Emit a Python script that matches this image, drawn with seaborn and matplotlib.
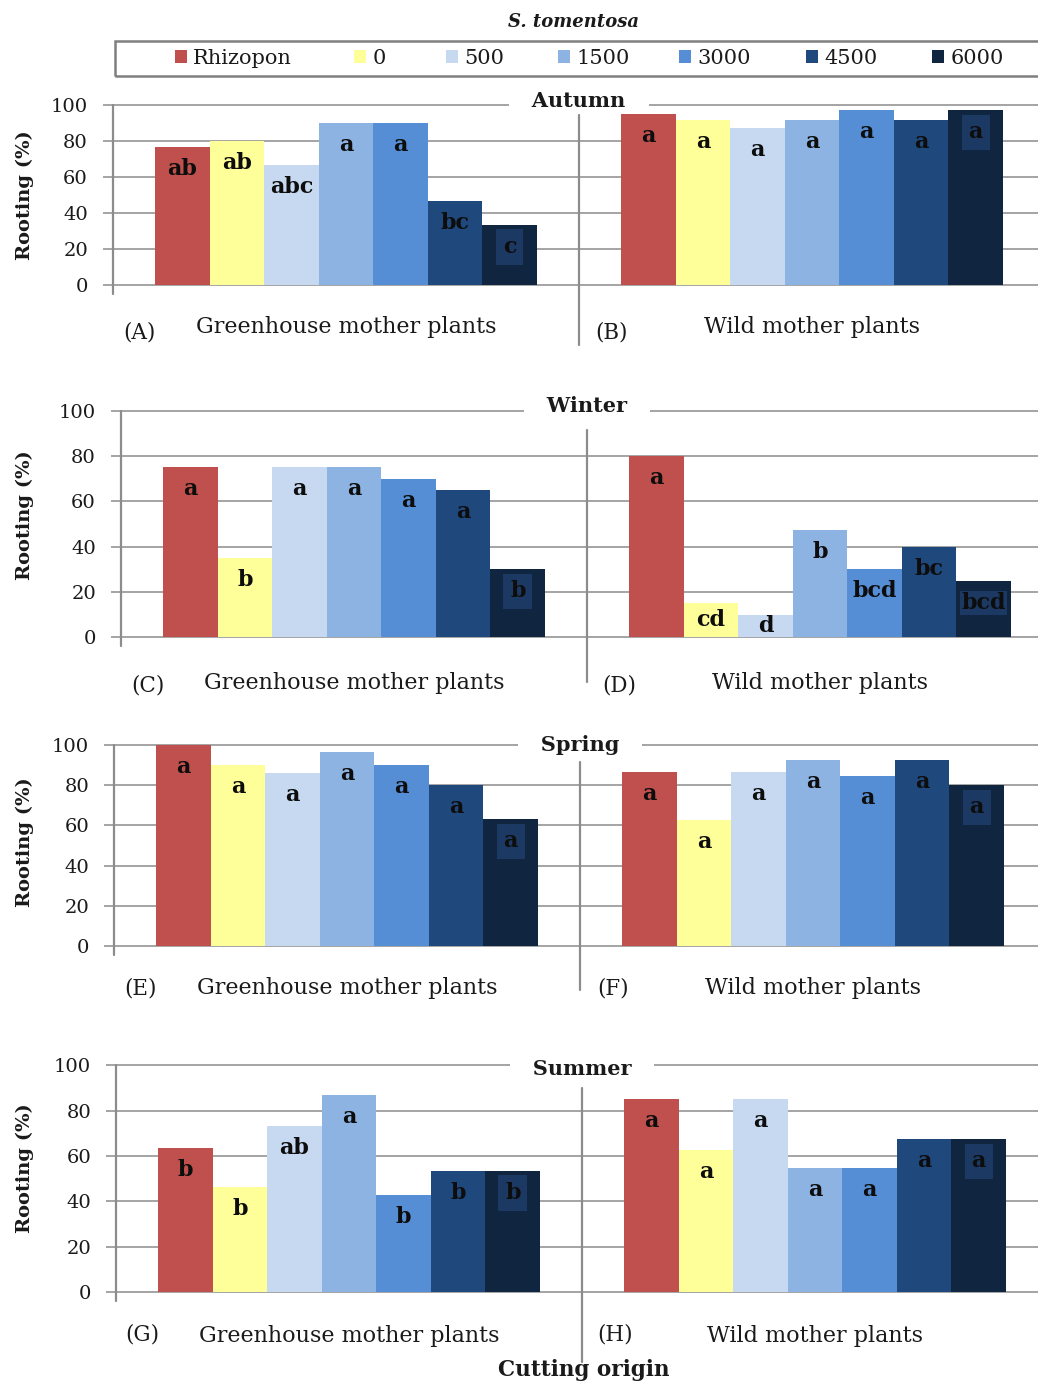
import numpy as np
import pandas as pd
import seaborn as sns
import matplotlib
matplotlib.use("Agg")
import matplotlib.pyplot as plt
from matplotlib.patches import Rectangle

# ---- data -------------------------------------------------------------
treatments = ["Rhizopon", "0", "500", "1500", "3000", "4500", "6000"]
origins = ["Greenhouse mother plants", "Wild mother plants"]
seasons = ["Autumn", "Winter", "Spring", "Summer"]
colors = ["#C0504D", "#FFFF99", "#C6D9F1", "#8DB3E2", "#558ED5", "#1F497D", "#10253F"]

autumn_greenhouse = [76.7, 80.0, 66.7, 90.0, 90.0, 46.7, 33.3]
autumn_wild = [95.0, 91.7, 87.0, 91.7, 97.0, 91.7, 97.0]
winter_greenhouse = [75.0, 35.0, 75.0, 75.0, 70.0, 65.0, 30.0]
winter_wild = [80.0, 15.0, 10.0, 47.5, 30.0, 40.0, 25.0]
spring_greenhouse = [100.0, 90.0, 86.0, 96.5, 90.0, 80.0, 63.0]
spring_wild = [86.7, 62.5, 86.7, 92.5, 84.5, 92.5, 80.0]
summer_greenhouse = [63.3, 46.3, 73.2, 87.0, 43.0, 53.4, 53.4]
summer_wild = [85.0, 62.7, 85.0, 54.6, 54.6, 67.4, 67.4]

autumn_letters_gh = ["ab", "ab", "abc", "a", "a", "bc", "c"]
autumn_letters_wild = ["a", "a", "a", "a", "a", "a", "a"]
winter_letters_gh = ["a", "b", "a", "a", "a", "a", "b"]
winter_letters_wild = ["a", "cd", "d", "b", "bcd", "bc", "bcd"]
spring_letters_gh = ["a", "a", "a", "a", "a", "a", "a"]
spring_letters_wild = ["a", "a", "a", "a", "a", "a", "a"]
summer_letters_gh = ["b", "b", "ab", "a", "b", "b", "b"]
summer_letters_wild = ["a", "a", "a", "a", "a", "a", "a"]

panel_tags = [("(A)", "(B)"), ("(C)", "(D)"), ("(E)", "(F)"), ("(G)", "(H)")]

season_values = [
    (autumn_greenhouse, autumn_wild),
    (winter_greenhouse, winter_wild),
    (spring_greenhouse, spring_wild),
    (summer_greenhouse, summer_wild),
]
season_letters = [
    (autumn_letters_gh, autumn_letters_wild),
    (winter_letters_gh, winter_letters_wild),
    (spring_letters_gh, spring_letters_wild),
    (summer_letters_gh, summer_letters_wild),
]

# ---- layout (pixels) -------------------------------------------------
W, H = 1038, 1385
axis_left = [113, 121, 114, 116]
y_zero = [285, 637.3, 946, 1292]
y_full = [105, 410.7, 745, 1065.3]
cat_px = 466
group_width = 0.82
title_dy = [4, 5, 0, -4]          # season title offset above the 100 line
cat_drop = [44, 48, 44, 46]       # category label centre below the 0 line
tag_drop = [48, 48, 42, 43]
sep_top = [115, 430, 762, 1088]
sep_bottom = [345, 682, 990, 1362]
ylabel_center = [195, 515, 842, 1168]

grid_c = "#8C8C8C"
txt_c = "#1a1a1a"

sns.set_style("white")
plt.rcParams["font.family"] = ["DejaVu Serif"]
plt.rcParams["text.color"] = txt_c

fig = plt.figure(figsize=(W / 100, H / 100), dpi=100)

def px(v):
    return v * 0.72  # pixels -> points at 100 dpi

legend_handles = None
for i, season in enumerate(seasons):
    h_px = y_zero[i] - y_full[i]
    ax = fig.add_axes([axis_left[i] / W, (H - y_zero[i]) / H, 2 * cat_px / W, h_px / H])
    gh, wild = season_values[i]
    df = pd.DataFrame({
        "origin": np.repeat(origins, len(treatments)),
        "treatment": treatments * 2,
        "rooting": list(gh) + list(wild),
    })
    sns.barplot(data=df, x="origin", y="rooting", hue="treatment",
                order=origins, hue_order=treatments, palette=colors,
                width=group_width, saturation=1, errorbar=None,
                linewidth=0, ax=ax, legend=(i == 0))
    if i == 0:
        leg = ax.get_legend()
        legend_handles = (list(leg.legend_handles), [t.get_text() for t in leg.texts])
        leg.remove()

    ax.set_xlim(-0.5, 1.5)
    ax.set_ylim(0, 100)
    for s in ax.spines.values():
        s.set_visible(False)
    ax.set_axisbelow(True)
    ax.set_yticks(range(0, 101, 20))
    ax.yaxis.grid(True, color=grid_c, linewidth=1.1)
    for gl in ax.get_ygridlines():
        gl.set_clip_on(False)
    ax.tick_params(axis="y", left=True, length=px(10), width=1.1, color=grid_c,
                   labelsize=14, pad=px(15), labelcolor=txt_c)
    ax.tick_params(axis="x", length=0, labelsize=16, pad=px(cat_drop[i] - 13),
                   labelcolor=txt_c)
    ax.set_xlabel("")
    ax.set_ylabel("Rooting (%)", fontsize=14, fontweight="bold", color=txt_c)
    ax.yaxis.set_label_coords((34 - axis_left[i]) / (2 * cat_px),
                              (y_zero[i] - ylabel_center[i]) / h_px)

    # value axis line and group separator
    ax.axvline(-0.5, ymin=-9 / h_px, ymax=1, color=grid_c, lw=1.6, clip_on=False)
    ax.axvline(0.5, ymin=(y_zero[i] - sep_bottom[i]) / h_px,
               ymax=(y_zero[i] - sep_top[i]) / h_px,
               color=grid_c, lw=1.6, clip_on=False)

    # significance letters
    px_per_unit = h_px / 100
    letters = season_letters[i]
    for cont in ax.containers:
        for bar in cont:
            cx = bar.get_x() + bar.get_width() / 2
            k = int(round(cx))
            j = int(round((cx - k + group_width / 2) / (group_width / len(treatments)) - 0.5))
            hval = bar.get_height()
            drop = min(22, hval * px_per_unit / 2)
            txt = letters[k][j]
            kw = {}
            if j == len(treatments) - 1:
                pad = 0.3 if len(txt) < 3 else 0.05
                kw["bbox"] = dict(boxstyle=f"square,pad={pad}", fc="#1B3962", ec="none")
            ax.annotate(txt, (cx, hval), xytext=(0, -px(drop)),
                        textcoords="offset points", ha="center", va="center",
                        fontsize=16, fontweight="bold", color="#0d0d0d", **kw)

    # season title sitting on the 100 line
    ax.annotate("   " + season + "   ", (0.5, 100), xytext=(0, px(title_dy[i])),
                textcoords="offset points", ha="center", va="center",
                fontsize=15, fontweight="bold", color=txt_c,
                bbox=dict(boxstyle="square,pad=0.05", fc="white", ec="none"),
                zorder=0.8, annotation_clip=False)

    # panel tags
    for x_tag, tag in zip([-0.443, 0.57], panel_tags[i]):
        ax.annotate(tag, (x_tag, 0), xytext=(0, -px(tag_drop[i])),
                    textcoords="offset points", ha="center", va="center",
                    fontsize=15.5, color=txt_c, annotation_clip=False)

# ---- legend ------------------------------------------------------------
handles, labels = legend_handles
entry_x = [175, 354, 446, 558, 679, 806, 932]
for hnd, lab, xe in zip(handles, labels, entry_x):
    fig.legend([hnd], [lab], loc="center left", bbox_to_anchor=(xe / W, 1 - 58 / H),
               frameon=False, fontsize=15, handlelength=0.58, handleheight=0.58,
               handletextpad=0.3, borderpad=0, borderaxespad=0)
fig.patches.append(Rectangle((115 / W, 1 - 76 / H), 940 / W, 35 / H,
                             transform=fig.transFigure, fill=False,
                             edgecolor="#7F7F7F", linewidth=1.8))
fig.text(573 / W, 1 - 22 / H, "S. tomentosa", ha="center", va="center",
         fontsize=13, fontweight="bold", fontstyle="italic", color=txt_c)
fig.text(584 / W, 1 - 1370 / H, "Cutting origin", ha="center", va="center",
         fontsize=15.5, fontweight="bold", color=txt_c)

fig.savefig("out.png", dpi=100, facecolor="white")
